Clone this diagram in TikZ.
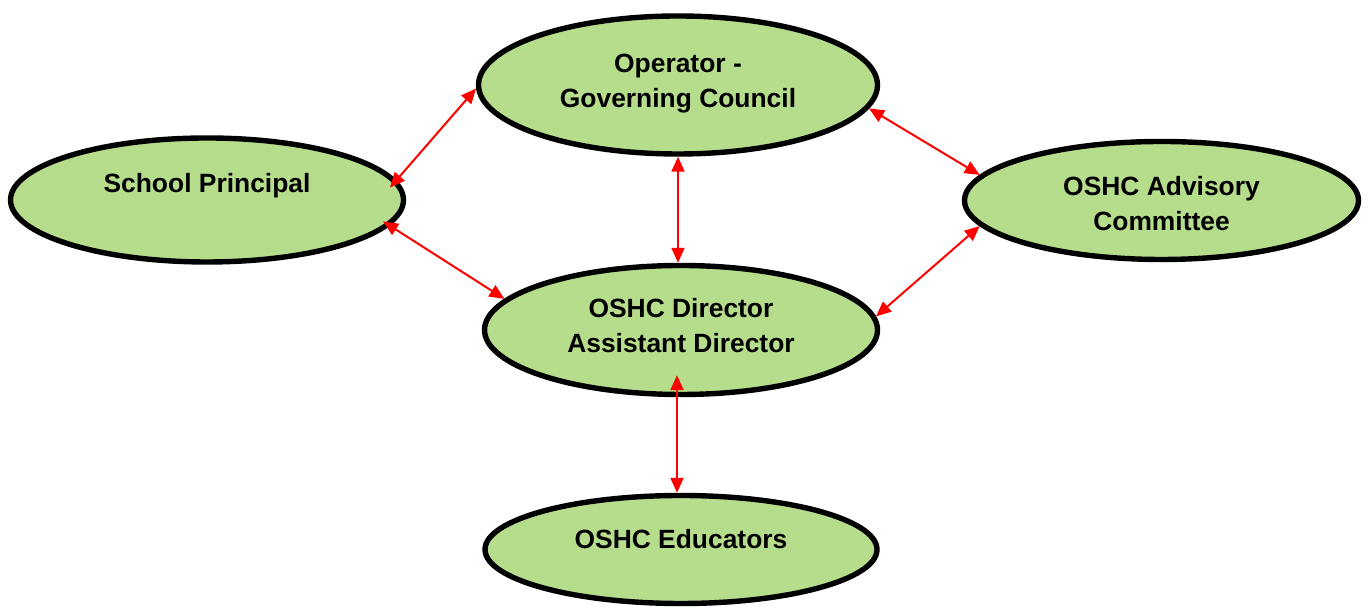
\documentclass[tikz,border=0pt]{standalone}
\usepackage{fontspec}
\setmainfont{Liberation Sans}
\usetikzlibrary{positioning, shapes.geometric, arrows.meta}

\definecolor{bubblegreen}{RGB}{182,221,140}
\tikzset{
  bubble/.style={ellipse, draw=black, line width=2.7pt, fill=bubblegreen, inner sep=0pt},
  bubbletext/.style={font=\bfseries\fontsize{13.2}{17.5}\selectfont, align=center},
}

\begin{document}
\begin{tikzpicture}[x=0.5pt, y=0.5pt]
          \useasboundingbox (0,0) rectangle (1368,608);
          \begin{scope}[every node/.style={bubble}]
            \node (op) [minimum width=199.5pt, minimum height=69pt] at (678, 523) {};
            \node (prin) [minimum width=196.5pt, minimum height=62pt] at (207, 408) {};
            \node (adv) [minimum width=197pt, minimum height=59pt] at (1161.5, 407.5) {};
            \node (dir) [minimum width=196.5pt, minimum height=64.5pt] at (681, 278) {};
            \node (educ) [minimum width=196pt, minimum height=54pt] at (681, 58.5) {};
          \end{scope}
          \begin{scope}[every node/.style={bubbletext}]
            \node (optext) at ([yshift=0.5pt]op.center) {Operator -\\Governing Council};
            \node (printext) at ([yshift=7pt]prin.center) {School Principal};
            \node (advtext) at ([yshift=-1.75pt]adv.center) {OSHC Advisory\\Committee};
            \node (dirtext) at ([yshift=2pt]dir.center) {OSHC Director\\Assistant Director};
            \node (eductext) at ([yshift=5pt]educ.center) {OSHC Educators};
          \end{scope}
          \begin{scope}[color=red, line width=1pt, >={Triangle[length=7.5pt, width=6.5pt]}]
            \path[<->] (op.181) edge [shorten >=-5pt] (prin.6);
            \path[<->] (op.353) edge (adv.172);
            \path[<->] (op.south) edge (op.south |- dir.north);
            \path[<->] (prin.352) edge [shorten <=-4pt] (dir.170);
            \path[<->] (adv.188) edge (dir.4);
            \path[<->] ([xshift=-2pt, yshift=11pt]dir.south) edge ([xshift=-2pt]educ.north);
          \end{scope}
        \end{tikzpicture}
\end{document}
